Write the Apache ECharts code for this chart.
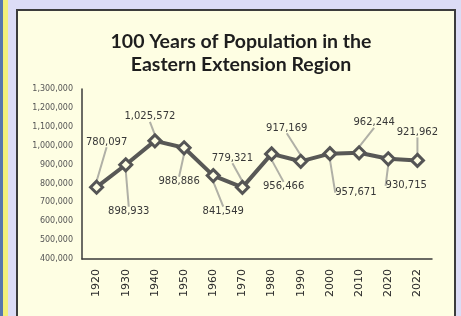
<!doctype html>
<html>
	<head>
		<meta charset="UTF-8">
		<title></title>
		<style>
			body { margin: 0; width: 461px; height: 316px; overflow: hidden; background: #dcdcf6; position: relative; }
			.stripe-blue { position: absolute; left: 0; top: 0; width: 3px; height: 316px; background: #5776ad; }
			.stripe-yellow { position: absolute; left: 3px; top: 0; width: 5px; height: 316px; background: #f2ef7a; }
			.frame {
				position: absolute; left: 16px; top: 9px; width: 436px; height: 330px;
				border: 2px solid #3c3c3c; background: #fefee3;
			}
			#chart { position: absolute; left: 0; top: 0; width: 461px; height: 316px; }
		</style>
	</head>
	<body>
		<div class="stripe-blue"></div>
		<div class="stripe-yellow"></div>
		<div class="frame"></div>
		<div id="chart"></div>
		<script src="https://cdn.jsdelivr.net/npm/echarts@6/dist/echarts.min.js"></script>
		<script>
			var years = ['1920', '1930', '1940', '1950', '1960', '1970', '1980', '1990', '2000', '2010', '2020', '2022'];
			var population = [780097, 898933, 1025572, 988886, 841549, 779321, 956466, 917169, 957671, 962244, 930715, 921962];
			// label offsets from the point (the excel chart had dragged labels)
			var labelDx = [10, 3, -5, -5, 10, -10, 12, -14, 26, 15, 18, 0];
			var labelDy = [-45, 47, -24, 34, 36, -29, 33, -33, 39, -30, 27, -28];

			var chart = echarts.init(document.getElementById('chart'));
			chart.setOption({
				title: {
					text: '100 Years of Population in the\nEastern Extension Region',
					left: 236,
					top: 25,
					textAlign: 'center',
					textStyle: {
						fontFamily: 'Lato',
						fontWeight: 'bold',
						fontSize: 19.5,
						lineHeight: 23,
						color: '#1e1e1e'
					}
				},
				grid: { left: 82, right: 29, top: 89, bottom: 57 },
				xAxis: {
					type: 'category',
					data: years,
					axisLine: { lineStyle: { color: '#3a3a3a', width: 1.5 } },
					axisTick: { show: false },
					axisLabel: {
						rotate: 90,
						margin: 10,
						fontFamily: 'DejaVu Sans',
						fontSize: 11,
						color: '#2a2a2a'
					}
				},
				yAxis: {
					type: 'value',
					min: 400000,
					max: 1300000,
					interval: 100000,
					axisLine: { show: true, lineStyle: { color: '#3a3a3a', width: 1.5 } },
					axisTick: { show: false },
					splitLine: { show: false },
					axisLabel: {
						margin: 9,
						fontFamily: 'DejaVu Sans',
						fontSize: 8,
						color: '#555',
						formatter: function(v) { return v.toLocaleString('en-US'); }
					}
				},
				series: [{
					type: 'line',
					data: population,
					symbol: 'diamond',
					symbolSize: 12,
					itemStyle: { color: '#fefee3', borderColor: '#555', borderWidth: 3 },
					lineStyle: { color: '#585856', width: 4 },
					label: {
						show: true,
						position: 'inside',
						fontFamily: 'DejaVu Sans',
						fontSize: 10,
						color: '#383838',
						formatter: function(p) { return p.value.toLocaleString('en-US'); }
					},
					labelLine: { show: true, lineStyle: { color: '#b0b0a6', width: 2 } },
					labelLayout: function(params) {
						return { dx: labelDx[params.dataIndex], dy: labelDy[params.dataIndex] };
					},
					z: 3
				}],
				animation: false
			});
		</script>
	</body>
</html>
